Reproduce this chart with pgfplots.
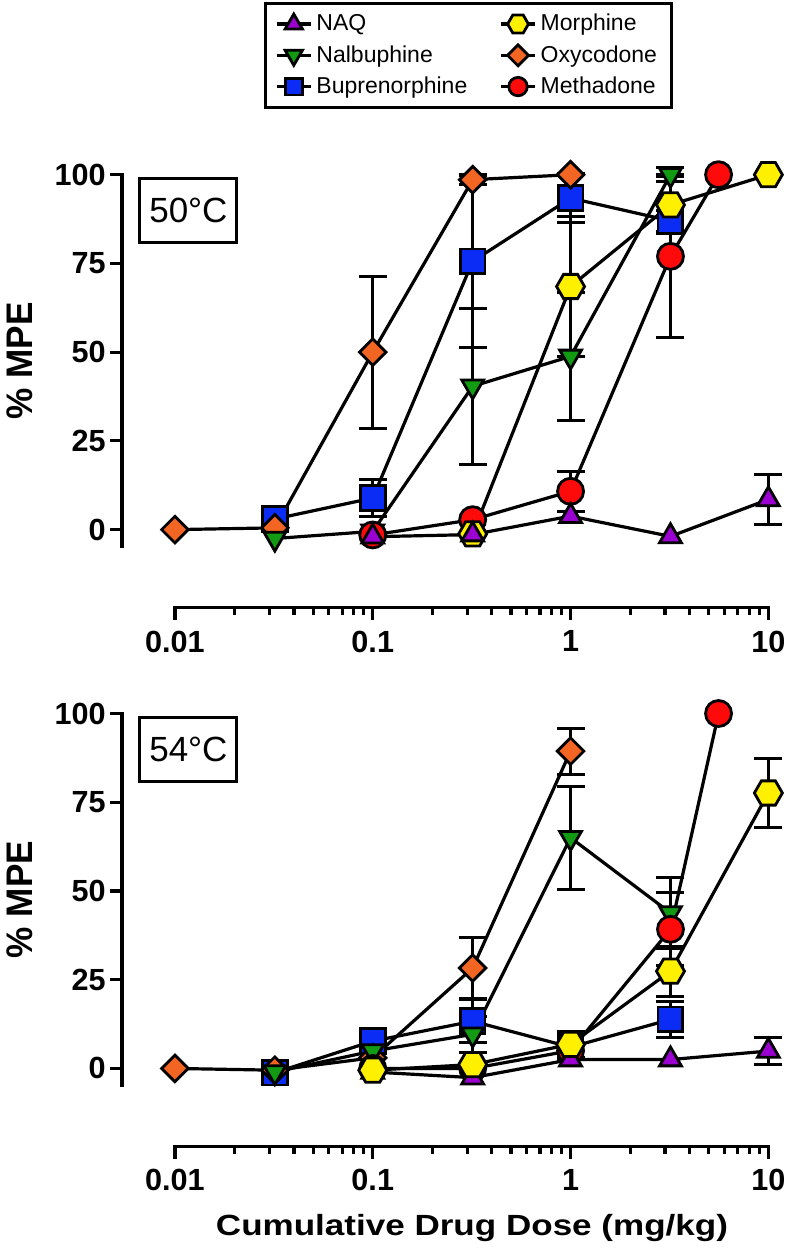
\documentclass[border=0pt]{standalone}
\usepackage{fontspec}
\setmainfont{Liberation Sans}
\newfontfamily\xlabfont[FakeStretch=1.2]{Liberation Sans}
\newfontfamily\ylabfont[FakeStretch=0.95]{Liberation Sans}
\usepackage{pgfplots}
\pgfplotsset{compat=1.18}
\usetikzlibrary{plotmarks}

\definecolor{cNAQ}{HTML}{9A00D0}
\definecolor{cNAL}{HTML}{129A12}
\definecolor{cBUP}{HTML}{0A2CF5}
\definecolor{cMOR}{HTML}{FFF000}
\definecolor{cOXY}{HTML}{F26522}
\definecolor{cMET}{HTML}{FF0A0A}

\pgfdeclareplotmark{hexagon*}{%
  \pgfpathmoveto{\pgfpointpolar{0}{\pgfplotmarksize}}%
  \pgfpathlineto{\pgfpointpolar{60}{\pgfplotmarksize}}%
  \pgfpathlineto{\pgfpointpolar{120}{\pgfplotmarksize}}%
  \pgfpathlineto{\pgfpointpolar{180}{\pgfplotmarksize}}%
  \pgfpathlineto{\pgfpointpolar{240}{\pgfplotmarksize}}%
  \pgfpathlineto{\pgfpointpolar{300}{\pgfplotmarksize}}%
  \pgfpathclose
  \pgfusepathqfillstroke}

\tikzset{
  myser/.style={black, line width=1.6pt, solid},
  sNAQ/.style={myser, mark=triangle*, mark size=6.3pt, mark options={fill=cNAQ, draw=black, line width=1.4pt, solid}},
  sNAL/.style={myser, mark=triangle*, mark size=6.3pt, mark options={rotate=180, fill=cNAL, draw=black, line width=1.4pt, solid}},
  sBUP/.style={myser, mark=square*, mark size=6.2pt, mark options={fill=cBUP, draw=black, line width=1.4pt, solid}},
  sMOR/.style={myser, mark=hexagon*, mark size=7pt, mark options={fill=cMOR, draw=black, line width=1.4pt, solid}},
  sOXY/.style={myser, mark=square*, mark size=4.7pt, mark options={rotate=45, fill=cOXY, draw=black, line width=1.4pt, solid}},
  sMET/.style={myser, mark=*, mark size=6.5pt, mark options={fill=cMET, draw=black, line width=1.4pt, solid}},
  tempbox/.style={draw=black, line width=1.5pt, minimum width=48.5pt, minimum height=32pt, inner sep=0pt, font=\fontsize{17.5}{20}\selectfont},
  spine/.style={line width=1.6pt, line cap=rect},
}

\begin{document}
\begin{tikzpicture}
\path[use as bounding box] (0,0) rectangle (394.5pt,-624pt);

% ---------------- top panel: 50 C ----------------
\begin{axis}[
    at={(61pt,-303.85pt)}, anchor=south west,
    scale only axis, width=326.5pt, height=216.5pt,
    xmode=log, xmin=0.0054, xmax=10.80, ymin=-22, ymax=100,
    clip=false,
    axis x line*=bottom, axis y line*=left,
    axis line style={draw=none},
    xtick={0.01,0.1,1,10}, xticklabels={0.01,0.1,1,10},
    minor xtick={0.02,0.03,0.04,0.05,0.06,0.07,0.08,0.09,0.2,0.3,0.4,0.5,0.6,0.7,0.8,0.9,2,3,4,5,6,7,8,9},
    ytick={0,25,50,75,100}, yticklabels={0,25,50,75,100},
    tick align=outside,
    major tick length=6pt, minor tick length=3.5pt,
    tick style={black, line width=1.6pt},
    tick label style={font=\fontsize{15.3}{17}\bfseries\selectfont},
    yticklabel style={inner sep=2pt},
    xticklabel style={yshift=-2pt},
    ylabel={\% MPE},
    every axis y label/.style={at={(axis description cs:-0.157,0.5705)}, rotate=90, anchor=center, font=\fontsize{18.5}{20}\ylabfont\bfseries\selectfont},
    legend columns=2,
    legend cell align=left,
    legend style={at={(axis description cs:0.530,1.3995)}, anchor=north,
      draw=black, line width=1.5pt, font=\fontsize{11.5}{13.5}\selectfont,
      inner xsep=5pt, inner ysep=3.5pt, row sep=1.8pt,
      /tikz/every even column/.append style={column sep=14pt}},
]
\addlegendimage{sNAQ, mark size=5pt}\addlegendentry{NAQ}
\addlegendimage{sMOR, mark size=5.2pt}\addlegendentry{Morphine}
\addlegendimage{sNAL, mark size=5pt}\addlegendentry{Nalbuphine}
\addlegendimage{sOXY, mark size=3.7pt}\addlegendentry{Oxycodone}
\addlegendimage{sBUP, mark size=4.2pt}\addlegendentry{Buprenorphine}
\addlegendimage{sMET, mark size=4.6pt}\addlegendentry{Methadone}

\draw[spine] (axis cs:0.0054,-4.7) -- (axis cs:0.0054,100);
\draw[spine] (axis cs:0.01,-22) -- (axis cs:10,-22);

\addplot[forget plot, only marks, mark=none, black,
    error bars/.cd, y dir=both, y explicit,
    error bar style={black, line width=1.5pt, solid},
    error mark options={black, rotate=90, mark size=7pt, line width=1.5pt}]
 coordinates {
 (10,8.5) +- (0,7)
 (0.32,40.4) +- (0,22) (1,48.8) +- (0,18) (3.2,100) +- (0,2)
 (0.1,8.9) +- (0,5.2) (0.32,75.6) +- (0,24.3) (1,93.4) +- (0,7) (3.2,87) +- (0,3)
 (1,68.5) +- (0,19.8) (3.2,91.5) +- (0,8)
 (0.1,50) +- (0,21.4) (0.32,98.6) +- (0,1.5)
 (1,10.8) +- (0,5.6) (3.2,77) +- (0,23)
};
\addplot[sBUP, forget plot] coordinates {(0.032,3) (0.1,8.9) (0.32,75.6) (1,93.4) (3.2,87)};
\addplot[sOXY, forget plot] coordinates {(0.01,0) (0.032,0.5) (0.1,50) (0.32,98.6) (1,100)};
\addplot[sNAL, forget plot] coordinates {(0.032,-2.5) (0.1,-0.5) (0.32,40.4) (1,48.8) (3.2,100)};
\addplot[sMET, forget plot] coordinates {(0.1,-1.5) (0.32,2.8) (1,10.8) (3.2,77) (5.6,100)};
\addplot[sMOR, forget plot] coordinates {(0.32,-1.2) (1,68.5) (3.2,91.5) (10,100)};
\addplot[sNAQ, forget plot] coordinates {(0.1,-2) (0.32,-1.4) (1,3.8) (3.2,-1.9) (10,8.5)};

\node[tempbox] at (axis cs:0.0117,89.9) {50°C};
\end{axis}

% ---------------- bottom panel: 54 C ----------------
\begin{axis}[
    at={(61pt,-573.25pt)}, anchor=south west,
    scale only axis, width=326.5pt, height=216.5pt,
    xmode=log, xmin=0.0054, xmax=10.80, ymin=-22, ymax=100,
    clip=false,
    axis x line*=bottom, axis y line*=left,
    axis line style={draw=none},
    xtick={0.01,0.1,1,10}, xticklabels={0.01,0.1,1,10},
    minor xtick={0.02,0.03,0.04,0.05,0.06,0.07,0.08,0.09,0.2,0.3,0.4,0.5,0.6,0.7,0.8,0.9,2,3,4,5,6,7,8,9},
    ytick={0,25,50,75,100}, yticklabels={0,25,50,75,100},
    tick align=outside,
    major tick length=6pt, minor tick length=3.5pt,
    tick style={black, line width=1.6pt},
    tick label style={font=\fontsize{15.3}{17}\bfseries\selectfont},
    yticklabel style={inner sep=2pt},
    xticklabel style={yshift=-2pt},
    ylabel={\% MPE},
    every axis y label/.style={at={(axis description cs:-0.157,0.5705)}, rotate=90, anchor=center, font=\fontsize{18.5}{20}\ylabfont\bfseries\selectfont},
    xlabel={Cumulative Drug Dose (mg/kg)},
    every axis x label/.style={at={(axis description cs:0.536,-0.2065)}, anchor=base, font=\fontsize{14.6}{17}\xlabfont\bfseries\selectfont},
]
\draw[spine] (axis cs:0.0054,-4.7) -- (axis cs:0.0054,100);
\draw[spine] (axis cs:0.01,-22) -- (axis cs:10,-22);

\addplot[forget plot, only marks, mark=none, black,
    error bars/.cd, y dir=both, y explicit,
    error bar style={black, line width=1.5pt, solid},
    error mark options={black, rotate=90, mark size=7pt, line width=1.5pt}]
 coordinates {
 (0.32,28.3) +- (0,8.5) (1,89.4) +- (0,6.5)
 (0.32,9.6) +- (0,5) (1,65) +- (0,14.5) (3.2,43.8) +- (0,10)
 (0.32,13.3) +- (0,6) (3.2,13.8) +- (0,5)
 (3.2,39.2) +- (0,10.3)
 (1,6.8) +- (0,3.7) (3.2,27.4) +- (0,7) (10,77.6) +- (0,9.7)
 (10,4.9) +- (0,3.7)
};
\addplot[sBUP] coordinates {(0.032,-1.2) (0.1,7.7) (0.32,13.3) (1,6) (3.2,13.8)};
\addplot[sOXY] coordinates {(0.01,0) (0.032,-0.5) (0.1,3) (0.32,28.3) (1,89.4)};
\addplot[sNAL] coordinates {(0.032,-1) (0.1,4.9) (0.32,9.6) (1,65) (3.2,43.8)};
\addplot[sMET] coordinates {(0.1,0) (0.32,0) (1,5) (3.2,39.2) (5.6,100)};
\addplot[sNAQ] coordinates {(0.1,-1) (0.32,-2.6) (1,2.5) (3.2,2.5) (10,4.9)};
\addplot[sMOR] coordinates {(0.1,-0.5) (0.32,1.1) (1,6.8) (3.2,27.4) (10,77.6)};

\node[tempbox] at (axis cs:0.0117,89.9) {54°C};
\end{axis}
\end{tikzpicture}
\end{document}
